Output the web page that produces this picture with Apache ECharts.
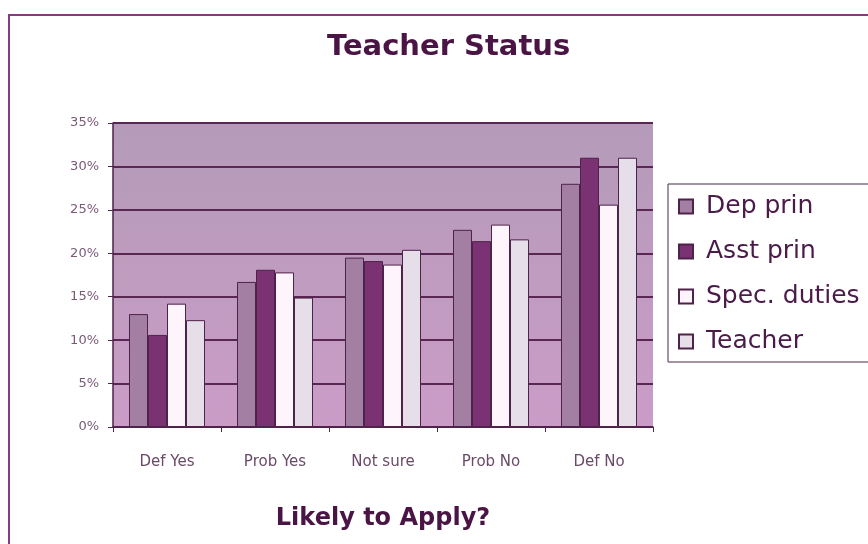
<!DOCTYPE html>
<html>
<head>
<meta charset="utf-8">
<script src="https://cdn.jsdelivr.net/npm/echarts@6/dist/echarts.min.js"></script>
<style>
  html, body { margin: 0; padding: 0; background: #fff; }
  #chart { width: 868px; height: 544px; }
</style>
</head>
<body>
<div id="chart"></div>
<script>
// categories on the x axis
var categories = ['Def Yes', 'Prob Yes', 'Not sure', 'Prob No', 'Def No'];
// percentages
var depPrin = [13.0, 16.7, 19.5, 22.7, 28.0];
var asstPrin = [10.6, 18.1, 19.1, 21.4, 31.0];
var specDuties = [14.2, 17.8, 18.7, 23.3, 25.6];
var teacher = [12.3, 14.9, 20.4, 21.6, 31.0];

var seriesNames = ['Dep prin', 'Asst prin', 'Spec. duties', 'Teacher'];
var seriesData = [depPrin, asstPrin, specDuties, teacher];
var seriesColors = ['#a47fa4', '#7b3273', '#fdf5fb', '#e6dee8'];

var edge = '#4e2249';
var font = 'DejaVu Sans';

function makeSeries() {
    var list = [];
    for (var i = 0; i < seriesNames.length; i++) {
        list.push({
            name: seriesNames[i],
            type: 'bar',
            data: seriesData[i],
            barWidth: 19,
            barGap: '0%',
            itemStyle: { color: seriesColors[i], borderColor: edge, borderWidth: 1 }
        });
    }
    return list;
}

var option = {
    animation: false,
    title: {
        text: 'Teacher Status',
        left: 322,
        top: 28,
        textStyle: { fontFamily: font, fontSize: 29, fontWeight: 'bold', color: '#4a1444' }
    },
    legend: {
        orient: 'vertical',
        left: 668,
        top: 184,
        padding: [10, 40, 8, 10],
        itemGap: 20,
        itemWidth: 14,
        itemHeight: 14,
        icon: 'rect',
        borderColor: '#4a2a48',
        borderWidth: 1,
        backgroundColor: '#fff',
        data: seriesNames,
        textStyle: { fontFamily: font, fontSize: 25, color: '#4a1a48', padding: [0, 0, 0, 8] }
    },
    graphic: [{
        type: 'rect',
        shape: { x: 9, y: 15, width: 900, height: 600 },
        style: { fill: 'none', stroke: '#8a3a80', lineWidth: 2 },
        silent: true
    }],
    grid: {
        left: 113,
        right: 215,
        top: 123,
        bottom: 117,
        show: true,
        borderWidth: 0,
        backgroundColor: {
            type: 'linear', x: 0, y: 0, x2: 0, y2: 1,
            colorStops: [
                { offset: 0, color: '#b49bb9' },
                { offset: 1, color: '#ca9cc7' }
            ]
        }
    },
    xAxis: {
        type: 'category',
        data: categories,
        name: 'Likely to Apply?',
        nameLocation: 'middle',
        nameGap: 80,
        nameTextStyle: { fontFamily: font, fontSize: 24, fontWeight: 'bold', color: '#4a1444' },
        axisLine: { lineStyle: { color: edge, width: 1.5 } },
        axisTick: { show: true, length: 5, lineStyle: { color: edge } },
        axisLabel: { margin: 28, fontFamily: font, fontSize: 15, color: '#6a4a68' }
    },
    yAxis: {
        type: 'value',
        min: 0,
        max: 35,
        interval: 5,
        axisLine: { show: true, lineStyle: { color: edge, width: 1.5 } },
        axisTick: { show: true, length: 5, lineStyle: { color: edge } },
        axisLabel: {
            margin: 14,
            fontFamily: font,
            fontSize: 13,
            color: '#7a5a78',
            formatter: '{value}%'
        },
        splitLine: { lineStyle: { color: '#5a2654', width: 2 } }
    },
    series: makeSeries()
};

var myEcharts = echarts.init(document.getElementById('chart'));
myEcharts.setOption(option);
</script>
</body>
</html>
